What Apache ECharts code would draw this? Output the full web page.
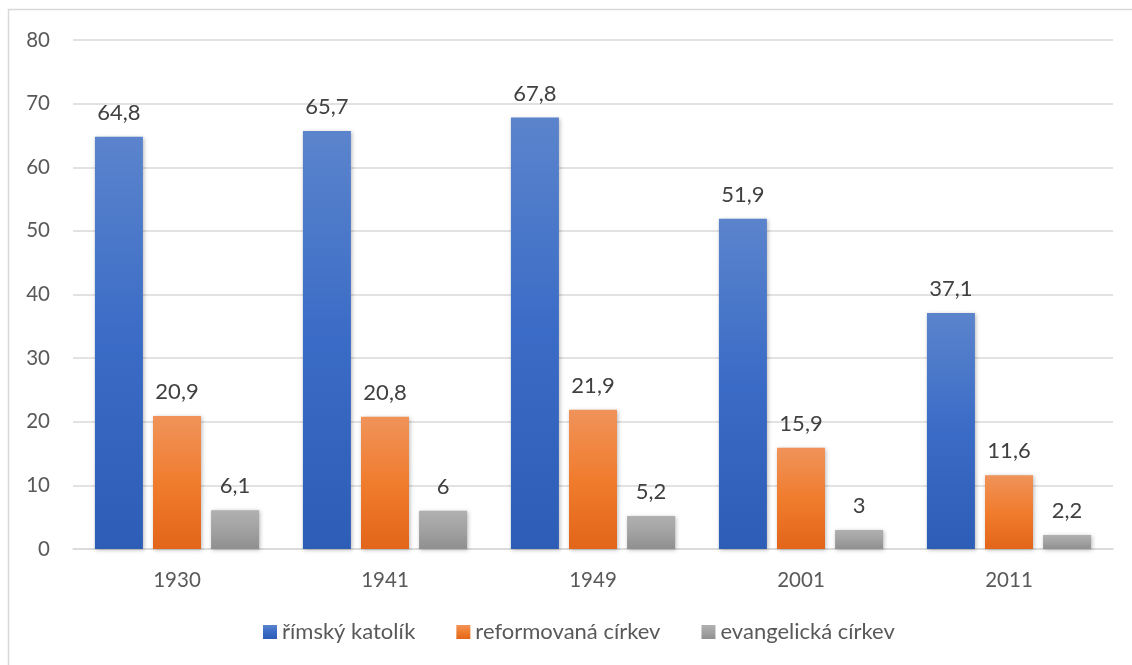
<!DOCTYPE html>
<html>
<head>
<meta charset="utf-8">
<script src="https://cdn.jsdelivr.net/npm/echarts@6/dist/echarts.min.js"></script>
<style>
  html, body { margin: 0; padding: 0; background: #fff; }
  #chart { width: 1132px; height: 665px; }
</style>
</head>
<body>
<div id="chart"></div>
<script>
// Religious affiliation shares by census year (%)
var years = ['1930', '1941', '1949', '2001', '2011'];
var katolik = [64.8, 65.7, 67.8, 51.9, 37.1];
var reformovana = [20.9, 20.8, 21.9, 15.9, 11.6];
var evangelicka = [6.1, 6.0, 5.2, 3.0, 2.2];
var seriesNames = ['římský katolík', 'reformovaná církev', 'evangelická církev'];
var yTicks = { min: 0, max: 80, interval: 10 };

var FONT = 'Lato, "Open Sans", sans-serif';

function grad(top, mid, bottom) {
  return new echarts.graphic.LinearGradient(0, 0, 0, 1, [
    { offset: 0, color: top },
    { offset: 0.5, color: mid },
    { offset: 1, color: bottom }
  ]);
}

function fmt(v) { return String(v).replace('.', ','); }

function barSeries(name, data, fill) {
  return {
    name: name,
    type: 'bar',
    data: data,
    barWidth: 48,
    barGap: '21%',
    itemStyle: {
      color: fill,
      shadowColor: 'rgba(0,0,0,0.28)',
      shadowBlur: 4,
      shadowOffsetX: 1,
      shadowOffsetY: 1
    },
    label: {
      show: true,
      position: 'top',
      distance: 13,
      color: '#404040',
      fontFamily: FONT,
      fontSize: 22,
      formatter: function (p) { return fmt(p.value); }
    }
  };
}

var chart = echarts.init(document.getElementById('chart'), null, { renderer: 'canvas' });
chart.setOption({
  animation: false,
  backgroundColor: '#fff',
  graphic: [{
    type: 'rect',
    shape: { x: 8.5, y: 9.5, width: 1140, height: 680 },
    style: { fill: 'none', stroke: '#d9d9d9', lineWidth: 1.5 },
    silent: true,
    z: -1
  }],
  grid: { left: 73, right: 19, top: 40, bottom: 116, containLabel: false },
  legend: {
    bottom: 17,
    left: 258,
    itemWidth: 14,
    itemHeight: 14,
    itemGap: 41,
    icon: 'rect',
    textStyle: { color: '#595959', fontFamily: FONT, fontSize: 22 },
    data: seriesNames
  },
  xAxis: {
    type: 'category',
    data: years,
    axisLine: { lineStyle: { color: '#d9d9d9', width: 1.5 } },
    axisTick: { show: false },
    axisLabel: { color: '#595959', fontFamily: FONT, fontSize: 20.5, margin: 21 }
  },
  yAxis: {
    type: 'value',
    min: yTicks.min,
    max: yTicks.max,
    interval: yTicks.interval,
    axisLine: { show: false },
    axisTick: { show: false },
    splitLine: { lineStyle: { color: '#d9d9d9', width: 1.5 } },
    axisLabel: { color: '#595959', fontFamily: FONT, fontSize: 20.5, margin: 23, align: 'right' }
  },
  series: [
    barSeries(seriesNames[0], katolik, grad('#5b84cc', '#3a6bc6', '#2d5db5')),
    barSeries(seriesNames[1], reformovana, grad('#f0935a', '#f07c2e', '#e2651a')),
    barSeries(seriesNames[2], evangelicka, grad('#b0b0b0', '#a2a2a2', '#8f8f8f'))
  ]
});
</script>
</body>
</html>
